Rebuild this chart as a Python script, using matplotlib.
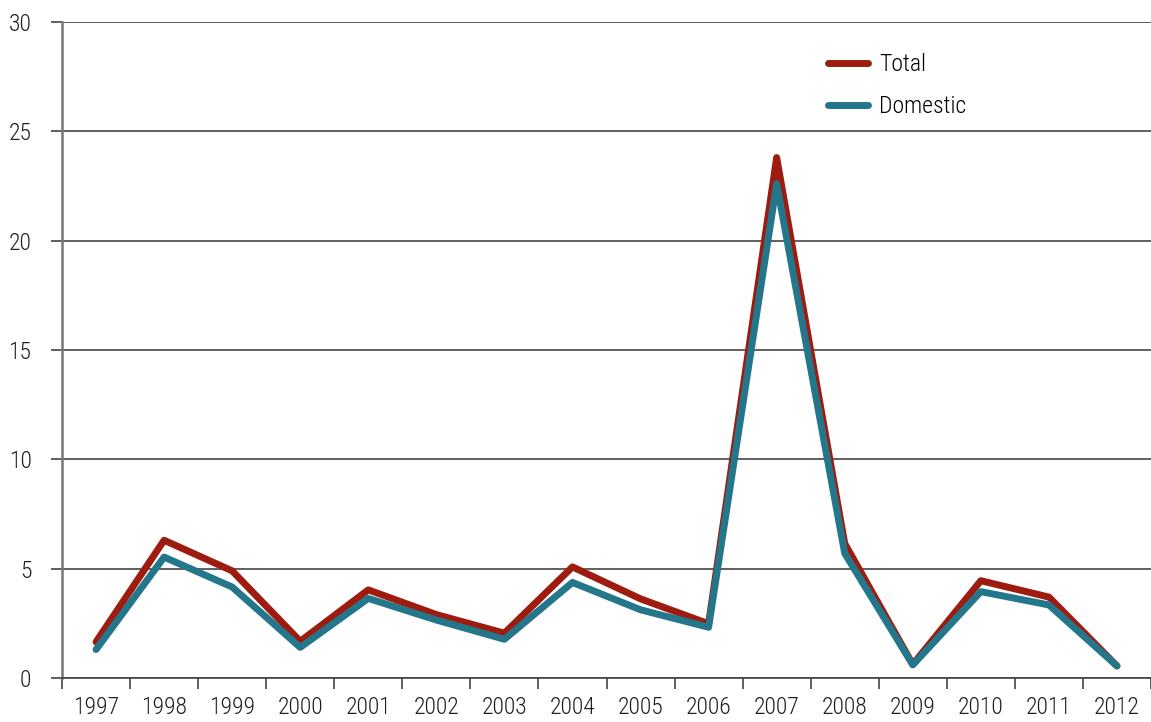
import numpy as np
import matplotlib
matplotlib.use("Agg")
from matplotlib import pyplot as plt
from matplotlib.ticker import FixedLocator

years = ['1997', '1998', '1999', '2000', '2001', '2002', '2003', '2004',
         '2005', '2006', '2007', '2008', '2009', '2010', '2011', '2012']
total = [1.65, 6.3, 4.9, 1.68, 4.03, 2.9, 2.05, 5.08, 3.62, 2.48, 23.8, 6.15, 0.62, 4.45, 3.7, 0.55]
domestic = [1.3, 5.53, 4.16, 1.4, 3.64, 2.65, 1.77, 4.37, 3.12, 2.32, 22.6, 5.7, 0.6, 3.95, 3.34, 0.55]

plt.rcParams['font.family'] = ['Roboto Condensed', 'Liberation Sans Narrow', 'DejaVu Sans']
plt.rcParams['font.weight'] = 'light'

fig = plt.figure(figsize=(11.51, 7.22), dpi=100, facecolor='w')
ax = fig.add_axes([62 / 1151, 44 / 722, 1 - 62 / 1151, 656 / 722])

x = np.arange(len(years))
ax.plot(x, total, color='#9e1b10', lw=5, solid_joinstyle='round', solid_capstyle='round', label='Total', zorder=3)
ax.plot(x, domestic, color='#24778a', lw=5, solid_joinstyle='round', solid_capstyle='round', label='Domestic', zorder=4)

ax.set_xlim(-0.5, len(years) - 0.5)
ax.set_ylim(0, 30)
ax.set_yticks([0, 5, 10, 15, 20, 25, 30])
ax.yaxis.grid(True, color='#444444', lw=1.2)
ax.set_axisbelow(True)

ax.set_xticks(x)
ax.set_xticklabels(years)
ax.xaxis.set_minor_locator(FixedLocator(np.arange(-0.5, len(years), 1)))
ax.tick_params(axis='x', which='major', length=0, pad=13, labelsize=17, labelcolor='#1e1e1e')
ax.tick_params(axis='x', which='minor', length=8, width=1.2, color='#444444')
ax.tick_params(axis='y', length=8, width=1.2, color='#444444', pad=14, labelsize=17, labelcolor='#1e1e1e')

for s in ['top', 'right']:
    ax.spines[s].set_visible(False)
ax.spines['left'].set_color('#777777')
ax.spines['left'].set_linewidth(1.8)
ax.spines['bottom'].set_color('#444444')
ax.spines['bottom'].set_linewidth(1.2)

ax.legend(loc='upper left', bbox_to_anchor=(0.684, 0.985), frameon=False, fontsize=17,
          handlelength=1.7, handletextpad=0.45, labelspacing=0.8)

plt.savefig('out.png', dpi=100)
